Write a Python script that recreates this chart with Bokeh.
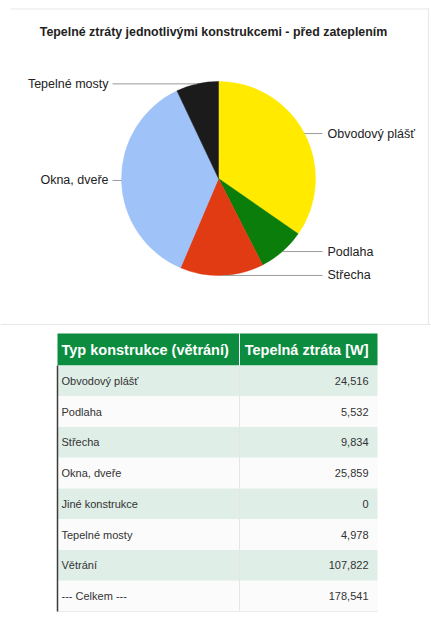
import numpy as np
from bokeh.plotting import figure
from bokeh.models import ColumnDataSource, Range1d
from bokeh.embed import file_html
from bokeh.resources import INLINE
from bokeh.core.properties import value

# ---- data ----
title_text = "Tepelné ztráty jednotlivými konstrukcemi - před zateplením"
pie_labels = ["Obvodový plášť", "Podlaha", "Střecha", "Okna, dveře", "Jiné konstrukce", "Tepelné mosty"]
pie_values = [24516, 5532, 9834, 25859, 0, 4978]
pie_colors = ["#ffea00", "#0a7d0a", "#e03b12", "#9fc2f9", "#888888", "#1b1b1b"]
vent_label = "Větrání"
vent_value = 107822
header_labels = ["Typ konstrukce (větrání)", "Tepelná ztráta [W]"]
total_label = "--- Celkem ---"

FONT = "Liberation Sans"
W, H = 431, 636
MARGIN = 0


def X(sx):
    return sx - MARGIN


def Y(sy):
    return H - (sy - MARGIN)


p = figure(width=W, height=H, x_range=Range1d(0, W), y_range=Range1d(0, H),
           output_backend="svg", toolbar_location=None, min_border=0,
           x_axis_location=None, y_axis_location=None)
p.grid.visible = False
p.outline_line_color = None
p.background_fill_color = "white"
p.border_fill_color = "white"

# ---- panel lines ----
p.segment(x0=[X(10), X(428), X(0)], y0=[Y(8.5), Y(8), Y(324)],
          x1=[X(428), X(428), X(431)], y1=[Y(8.5), Y(324), Y(324)],
          line_color="#e8e8e8", line_width=1.2)

# ---- title ----
p.text(x=[X(213)], y=[Y(31)], text=[title_text], text_font=value(FONT),
       text_font_style="bold", text_font_size="12.4px", text_align="center",
       text_baseline="middle", text_color="#222222")

# ---- pie ----
cx, cy, r = X(218), Y(178), 97
vals = np.array(pie_values, dtype=float)
total_pie = vals.sum()
frac = vals / total_pie
cum_end = np.cumsum(frac)
cum_start = cum_end - frac
keep = vals > 0
start_a = np.pi / 2 - 2 * np.pi * cum_end
end_a = np.pi / 2 - 2 * np.pi * cum_start
pie_src = ColumnDataSource(dict(
    start=start_a[keep], end=end_a[keep],
    color=[c for c, k in zip(pie_colors, keep) if k],
))
p.wedge(x=cx, y=cy, radius=r, start_angle="start", end_angle="end",
        fill_color="color", line_color="color", line_width=0.5, source=pie_src)

mid = np.pi / 2 - 2 * np.pi * (cum_start + cum_end) / 2
lx0, ly0, lx1, ly1 = [], [], [], []
rt_x, rt_y, rt_t = [], [], []
lt_x, lt_y, lt_t = [], [], []
for lab, m, k in zip(pie_labels, mid, keep):
    if not k:
        continue
    ax, ay = cx + r * np.cos(m), cy + r * np.sin(m)
    lx0.append(ax)
    ly0.append(ay)
    ly1.append(ay)
    if np.cos(m) > 0:
        lx1.append(X(322))
        rt_x.append(X(327)); rt_y.append(ay); rt_t.append(lab)
    else:
        lx1.append(X(112))
        lt_x.append(X(108)); lt_y.append(ay); lt_t.append(lab)
p.segment(x0=lx0, y0=ly0, x1=lx1, y1=ly1, line_color="#9a9a9a", line_width=1)
p.text(x=rt_x, y=rt_y, text=rt_t, text_font=value(FONT), text_font_size="12.5px",
       text_align="left", text_baseline="middle", text_color="#222222")
p.text(x=lt_x, y=lt_y, text=lt_t, text_font=value(FONT), text_font_size="12.5px",
       text_align="right", text_baseline="middle", text_color="#222222")

# ---- table ----
row_labels = pie_labels + [vent_label, total_label]
row_values = pie_values + [vent_value]
row_values = row_values + [sum(row_values)]
row_text = [f"{v:,}" for v in row_values]

tl, tr, tdiv = 57, 377, 239
head_top, head_bot = 333, 365
rh = 30.75
n = len(row_labels)
tops = [head_bot + i * rh for i in range(n)]
bots = [t + rh for t in tops]
row_colors = ["#dfeee7" if i % 2 == 0 else "#fbfbfb" for i in range(n)]

p.quad(left=X(tl), right=X(tr), top=Y(head_top), bottom=Y(head_bot),
       fill_color="#0b8c3e", line_color=None)
p.quad(left=[X(tl)] * n, right=[X(tr)] * n, top=[Y(t) for t in tops],
       bottom=[Y(b) for b in bots], fill_color=row_colors, line_color=None)
# dividers
p.segment(x0=[X(tdiv)], y0=[Y(head_top)], x1=[X(tdiv)], y1=[Y(head_bot)],
          line_color="white", line_width=1)
p.segment(x0=[X(tdiv)], y0=[Y(head_bot)], x1=[X(tdiv)], y1=[Y(bots[-1])],
          line_color="#e6e6e6", line_width=1)
p.segment(x0=[X(tl)], y0=[Y(bots[-1])], x1=[X(tr)], y1=[Y(bots[-1])],
          line_color="#ececec", line_width=1)
p.segment(x0=[X(tl)], y0=[Y(head_bot)], x1=[X(tl)], y1=[Y(bots[-1])],
          line_color="#3c3c3c", line_width=1.5)

# header text
p.text(x=[X(61)], y=[Y((head_top + head_bot) / 2)], text=[header_labels[0]],
       text_font=value(FONT), text_font_style="bold", text_font_size="14.5px",
       text_align="left", text_baseline="middle", text_color="white")
p.text(x=[X(368)], y=[Y((head_top + head_bot) / 2)], text=[header_labels[1]],
       text_font=value(FONT), text_font_style="bold", text_font_size="14.5px",
       text_align="right", text_baseline="middle", text_color="white")

centers = [Y(t + rh / 2) for t in tops]
p.text(x=[X(61)] * n, y=centers, text=row_labels, text_font=value(FONT),
       text_font_size="11px", text_align="left", text_baseline="middle",
       text_color="#333333")
p.text(x=[X(368)] * n, y=centers, text=row_text, text_font=value(FONT),
       text_font_size="11px", text_align="right", text_baseline="middle",
       text_color="#333333")

open("out.html", "w").write(file_html(p, INLINE))
